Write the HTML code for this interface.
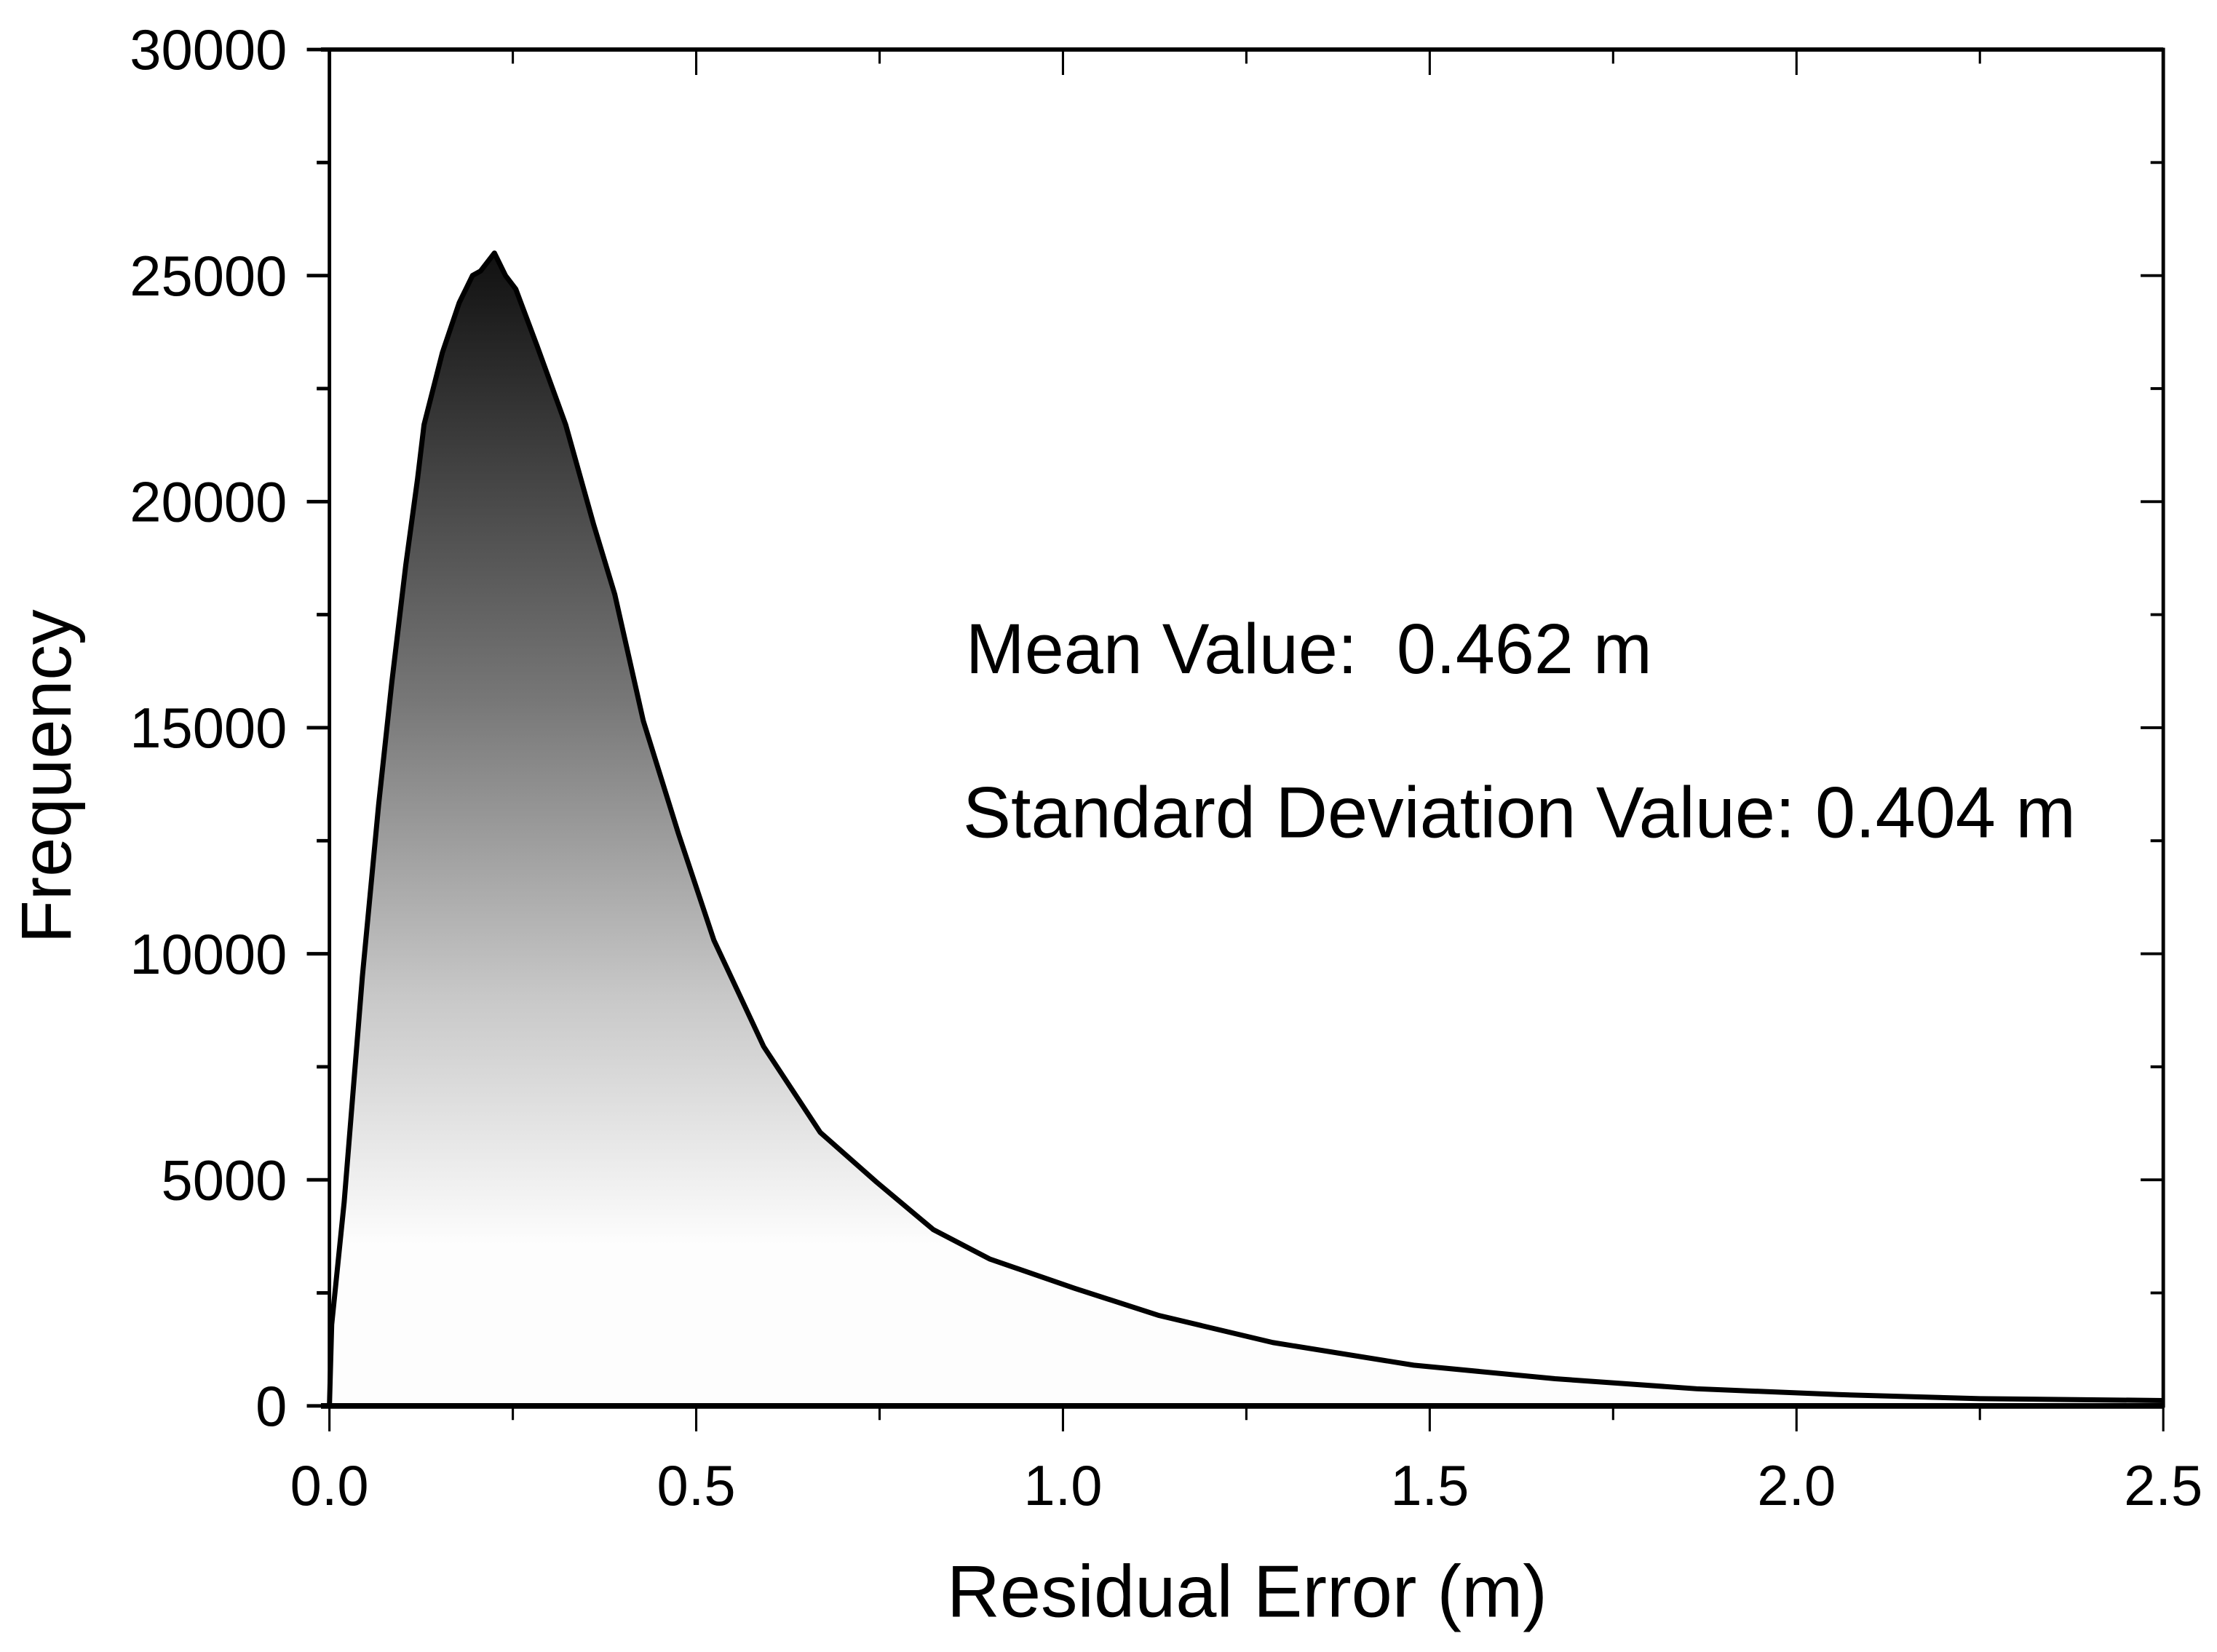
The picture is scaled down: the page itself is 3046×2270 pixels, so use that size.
<!DOCTYPE html>
<html><head><meta charset="utf-8"><style>
html,body{margin:0;padding:0;background:#fff;}
svg{display:block;font-family:"Liberation Sans",Arial,sans-serif;}
</style></head><body>
<svg id="chart" width="3046" height="2270" viewBox="0 0 1568 1168" preserveAspectRatio="none" xmlns="http://www.w3.org/2000/svg">
<defs>
<linearGradient id="fillGrad" gradientUnits="userSpaceOnUse" x1="0" y1="180" x2="0" y2="880">
<stop offset="0" stop-color="#111"/>
<stop offset="0.45" stop-color="#777"/>
<stop offset="0.75" stop-color="#c8c8c8"/>
<stop offset="1" stop-color="#fdfdfd"/>
</linearGradient>
</defs>
<g id="plot"></g>
<text x="683" y="476" font-size="50">Mean Value:&#160; 0.462 m</text>
<text x="681" y="592" font-size="51">Standard Deviation Value: 0.404 m</text>
<text x="882" y="1143" font-size="52" text-anchor="middle">Residual Error (m)</text>
<text transform="translate(50,549) rotate(-90)" font-size="50" text-anchor="middle">Frequency</text>
</svg>
<script>
const residual = [0,0.003,0.02,0.045,0.067,0.085,0.104,0.12,0.129,0.154,0.177,0.195,0.206,0.225,0.24,0.254,0.283,0.322,0.36,0.389,0.428,0.476,0.524,0.592,0.669,0.746,0.823,0.9,1.016,1.131,1.286,1.478,1.671,1.864,2.057,2.25,2.5];
const frequency = [0,1800,4500,9500,13300,16000,18600,20500,21700,23300,24400,25000,25100,25500,25000,24700,23450,21700,19500,17950,15150,12650,10300,7950,6050,4950,3900,3250,2600,2000,1400,900,600,380,250,160,120];
const xTicks = [0,0.5,1.0,1.5,2.0,2.5];
const xTickLabels = ["0.0","0.5","1.0","1.5","2.0","2.5"];
const yTicks = [0,5000,10000,15000,20000,25000,30000];
const yTickLabels = ["0","5000","10000","15000","20000","25000","30000"];

const L=233,R=1530,T=35,B=994;
const xS=v=>L+(v-0)/(2.5-0)*(R-L);
const yS=v=>B-(v/30000)*(B-T);
const NS="http://www.w3.org/2000/svg";
const g=document.getElementById('plot');
function mk(tag,attrs){const e=document.createElementNS(NS,tag);for(const k in attrs)e.setAttribute(k,attrs[k]);g.appendChild(e);return e;}

let d='';
residual.forEach((x,i)=>{d+=(i?'L':'M')+xS(x).toFixed(1)+','+yS(frequency[i]).toFixed(1);});
const area=mk('path',{d:d+'L'+xS(residual[residual.length-1])+','+B+'L'+xS(0)+','+B+'Z',fill:'url(#fillGrad)',stroke:'none'});


const line=mk('path',{d:d,fill:'none',stroke:'#000','stroke-width':3.6,'stroke-linejoin':'round'});



const frame=mk('rect',{x:L,y:T,width:R-L,height:B-T,fill:'none',stroke:'#000','stroke-width':2.5});


mk('line',{x1:L-6,y1:B,x2:R,y2:B,stroke:'#000','stroke-width':4});
mk('line',{x1:L-6,y1:T,x2:R,y2:T,stroke:'#000','stroke-width':3});

for(let i=0;i<=20;i+=2){const x=xS(i*0.125);const l=(i%4===0)?18:10;
  mk('line',{x1:x,y1:B,x2:x,y2:B+l,stroke:'#000','stroke-width':1.6});
  mk('line',{x1:x,y1:T,x2:x,y2:T+l,stroke:'#000','stroke-width':1.6});
}
xTicks.forEach((v,i)=>{const t=mk('text',{x:xS(v),y:1064,'font-size':40,'text-anchor':'middle'});t.textContent=xTickLabels[i];
 
 });
for(let i=0;i<=12;i++){const y=yS(i*2500);const l=i%2===0?16:9;
 mk('line',{x1:L,y1:y,x2:L-l,y2:y,stroke:'#000','stroke-width':2.5});
 mk('line',{x1:R,y1:y,x2:R-l,y2:y,stroke:'#000','stroke-width':2});}
yTicks.forEach((v,i)=>{const t=mk('text',{x:L-30,y:yS(v)+14,'font-size':40,'text-anchor':'end'});t.textContent=yTickLabels[i];
 
 });
</script>
</body></html>
